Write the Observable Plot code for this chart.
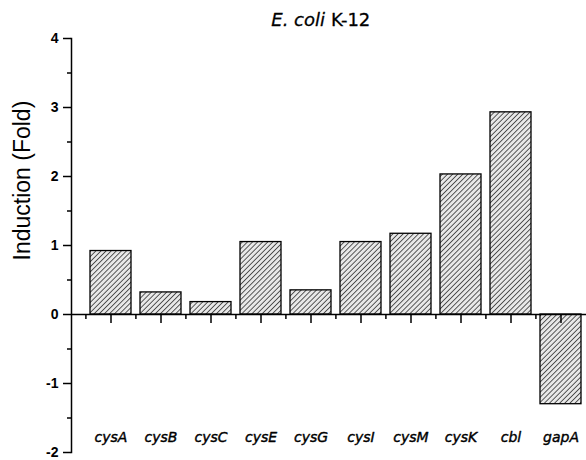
<!DOCTYPE html>
<html><head><meta charset="utf-8">
<script src="https://cdn.jsdelivr.net/npm/d3@7"></script>
<script src="https://cdn.jsdelivr.net/npm/@observablehq/plot@0.6"></script>
<style>body{margin:0;background:#fff}</style>
</head><body><div id="chart"></div>
<script>
const genes = ["cysA","cysB","cysC","cysE","cysG","cysI","cysM","cysK","cbl","gapA"];
const induction = [0.92,0.32,0.18,1.05,0.35,1.05,1.17,2.03,2.93,-1.30];
const yTicks = [-2,-1,0,1,2,3,4];
const yMinorTicks = [-1.5,-0.5,0.5,1.5,2.5,3.5];
const titleItalic = "E. coli";
const titleRest = "K-12";
const yLabel = "Induction (Fold)";

const data = genes.map((g,i)=>({gene:g, value:induction[i]}));
const W=586, H=460, mL=71, mT=38, mB=8, bandStart=84;
const step = (W - bandStart)/genes.length;
const pxPerUnit = (H-mT-mB)/(yTicks[yTicks.length-1]-yTicks[0]);
const px = p => p/pxPerUnit;

const chart = Plot.plot({
  width: W, height: H,
  marginLeft: mL, marginRight: 0, marginTop: mT, marginBottom: mB,
  style: {fontFamily: "'Liberation Sans', Arial, sans-serif", background: "#fff", color: "#000"},
  x: {domain: genes, range: [bandStart, W], paddingInner: 0.18, paddingOuter: 0.09, axis: null},
  y: {domain: [yTicks[0], yTicks[yTicks.length-1]], axis: null},
  marks: [
    Plot.barY(data, {x: "gene", y: "value", fill: "url(#hatch)", stroke: "#000", strokeWidth: 1.3}),
    Plot.ruleY([0], {stroke: "#000", strokeWidth: 1.5}),
    Plot.ruleX(genes, {x: d => d, y1: 0, y2: px(-9), stroke: "#000", strokeWidth: 1.5}),
    Plot.ruleX(genes, {x: d => d, y1: 0, y2: px(-5), dx: -step/2, stroke: "#000", strokeWidth: 1.5}),
    Plot.frame({anchor: "left", stroke: "#000", strokeWidth: 1.5}),
    Plot.axisY({ticks: yTicks, tickSize: 8, tickPadding: 5, tickFormat: d => String(d), label: null,
      fontSize: 14, fontWeight: "bold", strokeWidth: 1.5}),
    Plot.axisY({ticks: yMinorTicks, tickSize: 4, tickFormat: null, text: null, label: null, strokeWidth: 1.5}),
    Plot.text([yLabel], {frameAnchor: "left", rotate: -90, dx: -49, dy: 15, fontSize: 23, fill: "#000"}),
    Plot.text([titleItalic], {frameAnchor: "top", lineAnchor: "middle", textAnchor: "end", dx: -4, dy: -18, fontSize: 18,
      fontStyle: "italic", fontFamily: "DejaVu Sans", fill: "#000", stroke: "#000", strokeWidth: 0.3}),
    Plot.text([titleRest], {frameAnchor: "top", lineAnchor: "middle", textAnchor: "start", dx: 2, dy: -18, fontSize: 18,
      fontFamily: "DejaVu Sans", fill: "#000", stroke: "#000", strokeWidth: 0.3}),
    Plot.text(genes, {x: d => d, frameAnchor: "bottom", lineAnchor: "middle", dy: -15, fontSize: 14, fontStyle: "italic",
      fontFamily: "DejaVu Sans", fill: "#000", stroke: "#000", strokeWidth: 0.4})
  ]
});

const ns = "http://www.w3.org/2000/svg";
const defs = document.createElementNS(ns, "defs");
defs.innerHTML = `<pattern id="hatch" patternUnits="userSpaceOnUse" width="3.6" height="3.6" patternTransform="rotate(45)">
  <rect width="3.6" height="3.6" fill="#e8e8e8"/>
  <line x1="0" y1="0" x2="0" y2="3.6" stroke="#333" stroke-width="1.6"/>
</pattern>`;
chart.insertBefore(defs, chart.firstChild);
document.getElementById("chart").appendChild(chart);
</script>
</body></html>
